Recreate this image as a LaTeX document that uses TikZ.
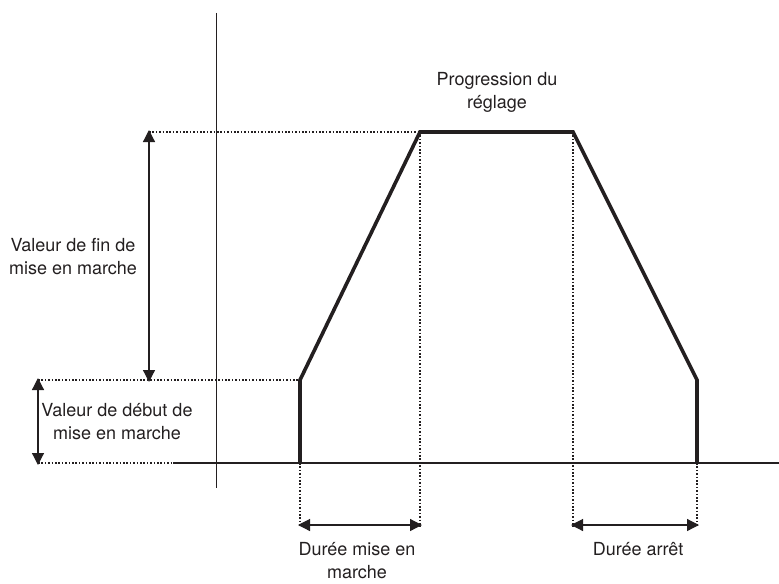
\documentclass[tikz,border=0pt]{standalone}
\usepackage{fontspec}
\setmainfont{TeX Gyre Heros}
\usetikzlibrary{arrows.meta,positioning,calc}
\definecolor{cInk}{HTML}{231f20}
\tikzset{
  axis/.style={line width=0.8pt,cInk},
  ramp/.style={line width=1.8pt,cInk,line join=miter},
  guide/.style={line width=0.8pt,cInk,dash pattern=on 0.8pt off 0.9pt},
  span/.style={{Triangle[length=6pt,width=6pt]}-{Triangle[length=6pt,width=6pt]},
               line width=0.6pt,cInk,shorten <=-1pt,shorten >=-1pt},
  lbl/.style={font=\fontsize{9}{11.5}\selectfont,align=center,inner sep=0pt,text=cInk},
}

\begin{document}
\begin{tikzpicture}[x=0.5pt,y=-0.5pt]
  \useasboundingbox (0,0) rectangle (779,583);
  % corners of the ramp
  \coordinate (s0) at (300,463);
  \coordinate (s1) at (300,380);
  \coordinate (s2) at (420,132);
  \coordinate (s3) at (573,132);
  \coordinate (s4) at (697,380);
  \coordinate (s5) at (697,463);
  % ends of the dimension lines
  \coordinate (finT) at (149,132);
  \coordinate (finB) at (149,380);
  \coordinate (debT) at (38,380);
  \coordinate (debB) at (38,463);
  \coordinate (monL) at (300,525);
  \coordinate (monR) at (420,525);
  \coordinate (arrL) at (573,525);
  \coordinate (arrR) at (697,525);
  \coordinate (axO) at (173,463);
  % axes
  \draw[axis] (216.5,13) -- (216.5,488);
  \draw[axis] (axO) -- (779,463);
  % guides
  \draw[guide] (finT) -- (s2);
  \draw[guide] (debT) -- (s1);
  \draw[guide] (debB) -- (axO);
  \draw[guide] (s0) -- ($(monL)+(0,2)$);
  \draw[guide] (s2) -- ($(monR)+(0,2)$);
  \draw[guide] (s3) -- ($(arrL)+(0,2)$);
  \draw[guide] (s5) -- ($(arrR)+(0,2)$);
  % setting curve
  \draw[ramp] (s0) -- (s1) -- (s2) -- (s3) -- (s4) -- (s5);
  % dimensions
  \draw[span] (finT) -- (finB);
  \draw[span] (debT) -- (debB);
  \draw[span] (monL) -- (monR);
  \draw[span] (arrL) -- (arrR);
  % labels
  \node[lbl](fin) at (73,257){Valeur de fin de\\mise en marche};
  \node[lbl](deb) at (117,422){Valeur de début de\\mise en marche};
  \node[lbl](prog) at (497,92){Progression du\\réglage};
  \node[lbl](dmon) at (357,561){Durée mise en\\marche};
  \node[lbl](darr) at (638,549){Durée arrêt};
\end{tikzpicture}
\end{document}
